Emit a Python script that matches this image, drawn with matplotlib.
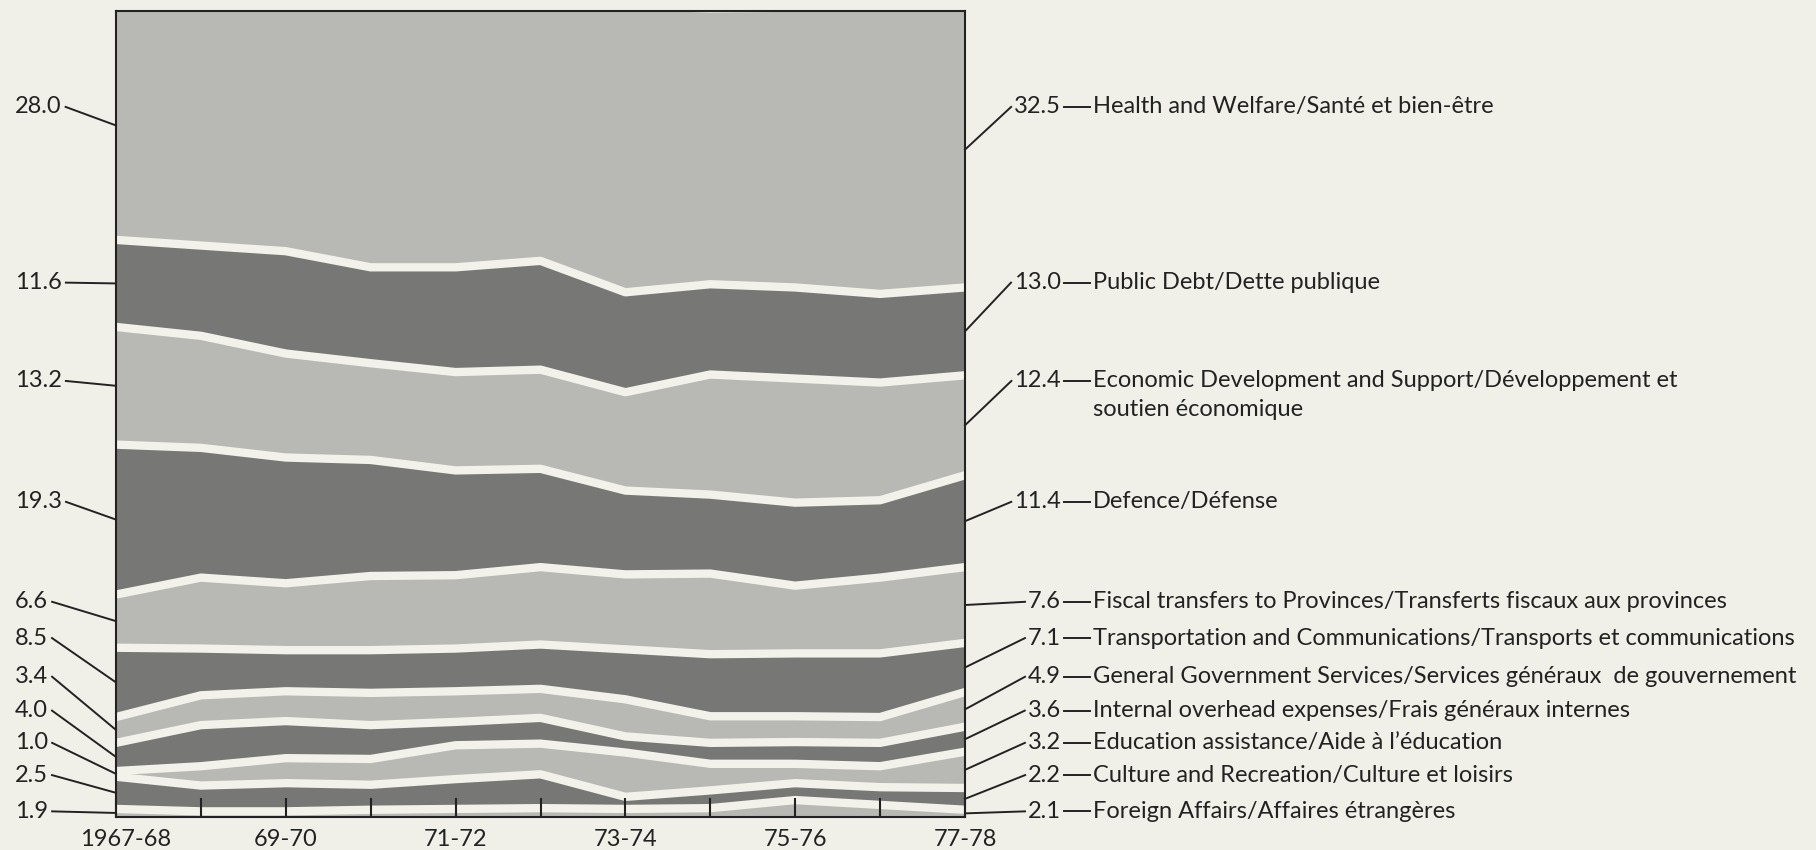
"""Federal spending shares by function, 1967-68 to 1977-78 (stacked bands)"""

import numpy as np
import matplotlib
matplotlib.use("Agg")
import matplotlib.pyplot as plt
from matplotlib.lines import Line2D
from matplotlib.transforms import (blended_transform_factory, offset_copy,
                                   ScaledTranslation)

plt.rcParams['font.family'] = ['Lato', 'DejaVu Sans']

# fiscal years
years = ["1967-68", "68-69", "69-70", "70-71", "71-72", "72-73",
         "73-74", "74-75", "75-76", "76-77", "77-78"]
year_labels = ["1967-68", "", "69-70", "", "71-72", "", "73-74", "",
               "75-76", "", "77-78"]

# percent shares as drawn in the bands, bottom band first
foreign = [1.0, 0.7, 0.7, 0.9, 1.0, 1.1, 1.0, 1.1, 2.1, 1.5, 0.9]
culture = [4.0, 3.2, 3.5, 3.1, 3.7, 4.2, 1.5, 2.2, 2.1, 2.2, 2.7]
education = [0.7, 2.4, 3.1, 3.2, 4.2, 3.8, 5.5, 3.3, 2.4, 2.6, 4.5]
internal = [3.5, 5.1, 4.6, 4.2, 2.9, 3.2, 2.0, 2.6, 2.7, 2.9, 3.1]
general_gov = [3.2, 3.7, 3.7, 4.0, 3.8, 3.6, 4.6, 3.3, 3.2, 3.2, 4.3]
transport = [8.6, 5.8, 5.1, 5.3, 5.3, 5.5, 6.2, 7.7, 7.8, 7.9, 6.1]
fiscal = [6.6, 8.8, 8.3, 9.2, 9.1, 9.6, 9.3, 10.0, 8.4, 9.4, 9.4]
defence = [18.6, 16.1, 15.6, 14.4, 13.0, 12.2, 10.4, 9.8, 10.3, 9.6, 11.4]
economic = [14.6, 13.9, 12.9, 12.0, 12.2, 12.3, 12.2, 14.9, 15.4, 14.6, 12.4]
public_debt = [10.8, 11.2, 12.7, 11.9, 13.0, 13.5, 12.4, 11.2, 11.3, 11.0, 10.9]
health = [28.4, 29.0, 29.8, 31.8, 31.8, 31.0, 35.0, 33.7, 34.2, 35.0, 34.2]

# printed values at each end, bottom band first
left_values = ["1.9", "2.5", "1.0", "4.0", "3.4", "8.5", "6.6", "19.3", "13.2", "11.6", "28.0"]
right_values = ["2.1", "2.2", "3.2", "3.6", "4.9", "7.1", "7.6", "11.4", "12.4", "13.0", "32.5"]
names = [
    "Foreign Affairs/Affaires étrangères",
    "Culture and Recreation/Culture et loisirs",
    "Education assistance/Aide à l\u2019éducation",
    "Internal overhead expenses/Frais généraux internes",
    "General Government Services/Services généraux  de gouvernement",
    "Transportation and Communications/Transports et communications",
    "Fiscal transfers to Provinces/Transferts fiscaux aux provinces",
    "Defence/Défense",
    "Economic Development and Support/Développement et\nsoutien économique",
    "Public Debt/Dette publique",
    "Health and Welfare/Santé et bien-être",
]

# label rows (in axis percent), bottom first
label_rows = [0.7, 5.2, 9.2, 13.2, 17.4, 22.2, 26.7, 39.1, 54.1, 66.3, 88.1]

bg = '#f1f0e8'
light = '#b8b8b4'
dark = '#777775'
sep = '#f2f1ea'
ink = '#222222'
fs = 17

shares = np.array([foreign, culture, education, internal, general_gov,
                   transport, fiscal, defence, economic, public_debt, health])
x = np.arange(len(years))
tops = np.cumsum(shares, axis=0)
mids = tops - shares / 2

W, H = 1816, 850
fig = plt.figure(figsize=(W / 100, H / 100), dpi=100, facecolor=bg)
ax = fig.add_axes([116 / W, 33 / H, 849 / W, 806 / H])
ax.set_facecolor(bg)

colors = [light if k % 2 == 0 else dark for k in range(len(shares))]
ax.stackplot(x, shares, colors=colors, linewidth=0)
for k in range(len(shares) - 1):
    ax.plot(x, tops[k], color=sep, lw=6)

ax.set_xlim(0, 10)
ax.set_ylim(0, 100)
ax.set_yticks([])
ax.set_xticks(x)
ax.set_xticklabels(year_labels)
ax.set_axisbelow(False)
ax.tick_params(axis='x', direction='in', length=14, width=1.5,
               pad=9, labelsize=fs, colors=ink)
for s in ax.spines.values():
    s.set_linewidth(1.5)
    s.set_color(ink)

# first year label sits a little to the right of its tick
first = ax.get_xticklabels()[0]
first.set_transform(first.get_transform()
                    + ScaledTranslation(0.1, 0, fig.dpi_scale_trans))

# end labels with leader lines
side = blended_transform_factory(fig.transFigure, ax.transData)
renderer = fig.canvas.get_renderer()
ax_l, ax_r = 116 / W, 965 / W

for k in range(len(shares)):
    row = label_rows[k]

    # left side
    t = fig.text(15 / W, row, left_values[k], transform=side, ha='left',
                 va='center', fontsize=fs, color=ink)
    bb = t.get_window_extent(renderer)
    fig.add_artist(Line2D([(bb.x1 + 4) / W, ax_l], [row, mids[k, 0]],
                          transform=side, color=ink, lw=1.4))

    # right side
    t = fig.text(1061 / W, row, right_values[k], transform=side, ha='right',
                 va='center', fontsize=fs, color=ink)
    bb = t.get_window_extent(renderer)
    fig.add_artist(Line2D([ax_r, (bb.x0 - 3) / W], [mids[k, -1], row],
                          transform=side, color=ink, lw=1.4))
    fig.add_artist(Line2D([(bb.x1 + 3) / W, 1090 / W], [row, row],
                          transform=side, color=ink, lw=1.4))
    for j, line in enumerate(names[k].split("\n")):
        tr = offset_copy(side, fig=fig, y=-29 * j, units='dots')
        fig.text(1093 / W, row, line, transform=tr, ha='left', va='center',
                 fontsize=fs, color=ink)

fig.savefig("out.png", dpi=100, facecolor=bg)
